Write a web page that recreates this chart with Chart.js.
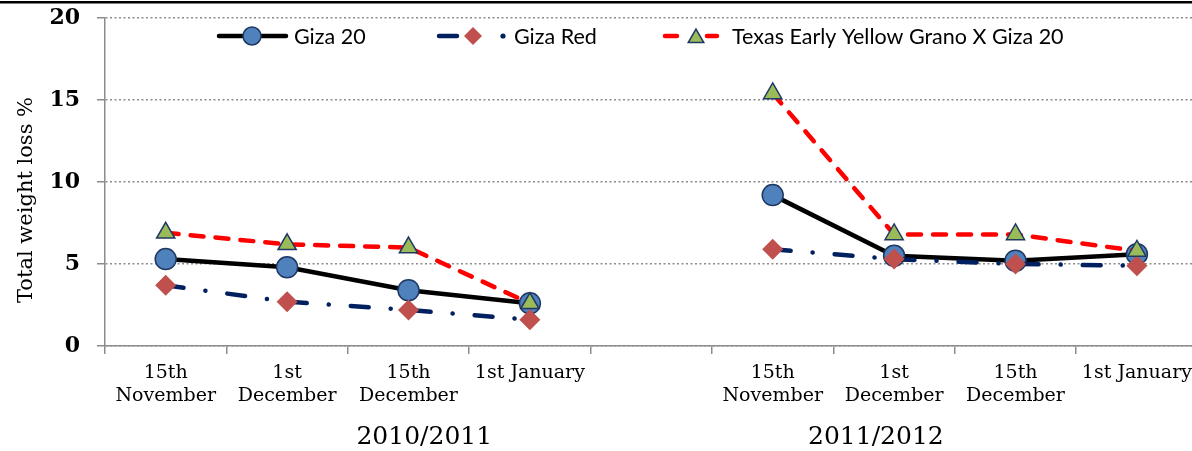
<!DOCTYPE html>
<html>
<head>
<meta charset="utf-8">
<script src="https://cdn.jsdelivr.net/npm/chart.js@4.4.1/dist/chart.umd.min.js"></script>
<style>
  html, body { margin: 0; padding: 0; background: #fff; overflow: hidden; }
  canvas { display: block; }
</style>
</head>
<body>
<canvas id="lossChart" width="1200" height="451"></canvas>
<script>
// categories (5th one is the empty gap between the two seasons)
const dates = [['15th', 'November'], ['1st', 'December'], ['15th', 'December'], '1st January', '',
               ['15th', 'November'], ['1st', 'December'], ['15th', 'December'], '1st January'];
const seasons = ['2010/2011', '2011/2012'];
const seriesNames = ['Giza 20', 'Giza Red', 'Texas Early Yellow Grano X Giza 20'];

// total weight loss %
const giza20  = [5.3, 4.8, 3.4, 2.6, null, 9.2, 5.5, 5.2, 5.6];
const gizaRed = [3.7, 2.7, 2.2, 1.6, null, 5.9, 5.3, 5.0, 4.9];
const texas   = [6.9, 6.2, 6.0, 2.6, null, 15.4, 6.8, 6.8, 5.8];

const serif = "'DejaVu Serif', serif";
const sans = "Lato, 'Liberation Sans', sans-serif";
const axisGray = '#8c8c8c';
const navy = '#1f3864';

function drawCircle(ctx, x, y, r) {
    ctx.beginPath();
    ctx.arc(x, y, r, 0, Math.PI * 2);
    ctx.fillStyle = '#4f81bd';
    ctx.fill();
    ctx.lineWidth = 1.5;
    ctx.strokeStyle = navy;
    ctx.stroke();
}
function drawDiamond(ctx, x, y, r) {
    ctx.beginPath();
    ctx.moveTo(x - r, y);
    ctx.lineTo(x, y - r);
    ctx.lineTo(x + r, y);
    ctx.lineTo(x, y + r);
    ctx.closePath();
    ctx.fillStyle = '#c0504d';
    ctx.fill();
}
function drawTriangle(ctx, x, y, r) {
    const w = Math.sin(Math.PI / 3) * r;
    ctx.beginPath();
    ctx.moveTo(x, y - r);
    ctx.lineTo(x + w, y + r / 2);
    ctx.lineTo(x - w, y + r / 2);
    ctx.closePath();
    ctx.fillStyle = '#9bbb59';
    ctx.fill();
    ctx.lineWidth = 1.5;
    ctx.strokeStyle = navy;
    ctx.stroke();
}

// legend, axis title, season labels and the top rule
const decor = {
    id: 'decor',
    afterDraw(chart) {
        const ctx = chart.ctx;
        const x = chart.scales.x;
        ctx.save();

        ctx.fillStyle = '#000';
        ctx.fillRect(0, 1, chart.width, 2.5);

        // y title
        ctx.save();
        ctx.translate(27, 200);
        ctx.rotate(-Math.PI / 2);
        ctx.font = '21px ' + serif;
        ctx.textAlign = 'center';
        ctx.textBaseline = 'middle';
        ctx.fillStyle = '#000';
        ctx.fillText('Total weight loss %', 0, 0);
        ctx.restore();

        // season labels
        ctx.font = '25px ' + serif;
        ctx.textAlign = 'center';
        ctx.textBaseline = 'middle';
        ctx.fillStyle = '#000';
        ctx.fillText(seasons[0], x.getPixelForValue(2.13), 437);
        ctx.fillText(seasons[1], x.getPixelForValue(5.85), 437);

        // legend
        const ly = 36;
        ctx.lineCap = 'round';
        ctx.lineWidth = 4.5;
        ctx.strokeStyle = '#000';
        ctx.beginPath();
        ctx.moveTo(219, ly);
        ctx.lineTo(286, ly);
        ctx.stroke();
        drawCircle(ctx, 252, ly, 9);

        ctx.strokeStyle = '#002060';
        ctx.lineWidth = 4.5;
        ctx.beginPath();
        ctx.moveTo(439, ly);
        ctx.lineTo(457, ly);
        ctx.stroke();
        ctx.beginPath();
        ctx.arc(503, ly, 2.6, 0, Math.PI * 2);
        ctx.fillStyle = '#002060';
        ctx.fill();
        drawDiamond(ctx, 473, ly, 9);

        ctx.strokeStyle = '#ff0000';
        ctx.beginPath();
        ctx.moveTo(665, ly);
        ctx.lineTo(677, ly);
        ctx.moveTo(707, ly);
        ctx.lineTo(717, ly);
        ctx.stroke();
        drawTriangle(ctx, 696, ly + 2, 9);

        ctx.font = '21.5px ' + sans;
        ctx.textAlign = 'left';
        ctx.textBaseline = 'middle';
        ctx.fillStyle = '#000';
        ctx.fillText(seriesNames[0], 294, ly + 1);
        ctx.fillText(seriesNames[1], 514, ly + 1);
        ctx.fillText(seriesNames[2], 732, ly + 1);

        ctx.restore();
    }
};

const lossCtx = document.getElementById('lossChart').getContext('2d');
const lossChart = new Chart(lossCtx, {
    type: 'line',
    data: {
        labels: dates,
        datasets: [{
            label: seriesNames[0],
            data: giza20,
            order: 2,
            borderColor: '#000',
            borderWidth: 4.5,
            pointStyle: 'circle',
            pointRadius: 10.5,
            pointBackgroundColor: '#4f81bd',
            pointBorderColor: navy,
            pointBorderWidth: 1.5,
        }, {
            label: seriesNames[1],
            data: gizaRed,
            order: 1,
            borderColor: '#002060',
            borderWidth: 4.5,
            borderDash: [18, 22, 0.1, 22],
            borderCapStyle: 'round',
            pointStyle: 'rectRot',
            pointRadius: 10.5,
            pointBackgroundColor: '#c0504d',
            pointBorderWidth: 0,
        }, {
            label: seriesNames[2],
            data: texas,
            order: 0,
            borderColor: '#ff0000',
            borderWidth: 4.5,
            borderDash: [13, 12],
            borderCapStyle: 'round',
            pointStyle: 'triangle',
            pointRadius: 10.5,
            pointBackgroundColor: '#9bbb59',
            pointBorderColor: navy,
            pointBorderWidth: 1.5,
        }]
    },
    options: {
        responsive: false,
        animation: false,
        spanGaps: false,
        layout: { autoPadding: false, padding: { top: 18, right: 1, left: 0, bottom: 0 } },
        plugins: {
            legend: { display: false },
            tooltip: { enabled: false },
        },
        scales: {
            x: {
                offset: true,
                afterFit(scale) { scale.height = 105; },
                grid: {
                    offset: true,
                    drawOnChartArea: false,
                    drawTicks: true,
                    tickLength: 8,
                    color: axisGray,
                    lineWidth: 1.5,
                },
                border: { color: axisGray, width: 1.5 },
                ticks: {
                    autoSkip: false,
                    maxRotation: 0,
                    padding: 8,
                    color: '#000',
                    font: { family: serif, size: 19, lineHeight: 1.2 },
                },
            },
            y: {
                min: 0,
                max: 20,
                afterFit(scale) {
                    scale.width = 105;
                    scale.paddingTop = 10;
                    scale.paddingBottom = 10;
                },
                grid: {
                    color: axisGray,
                    lineWidth: 1.5,
                    tickLength: 8,
                    tickBorderDash: [],
                },
                border: { color: axisGray, width: 1.5, dash: [2, 2.5] },
                ticks: {
                    stepSize: 5,
                    padding: 17,
                    color: '#000',
                    font: { family: serif, size: 22, weight: 'bold' },
                },
            }
        }
    },
    plugins: [decor]
});
</script>
</body>
</html>
